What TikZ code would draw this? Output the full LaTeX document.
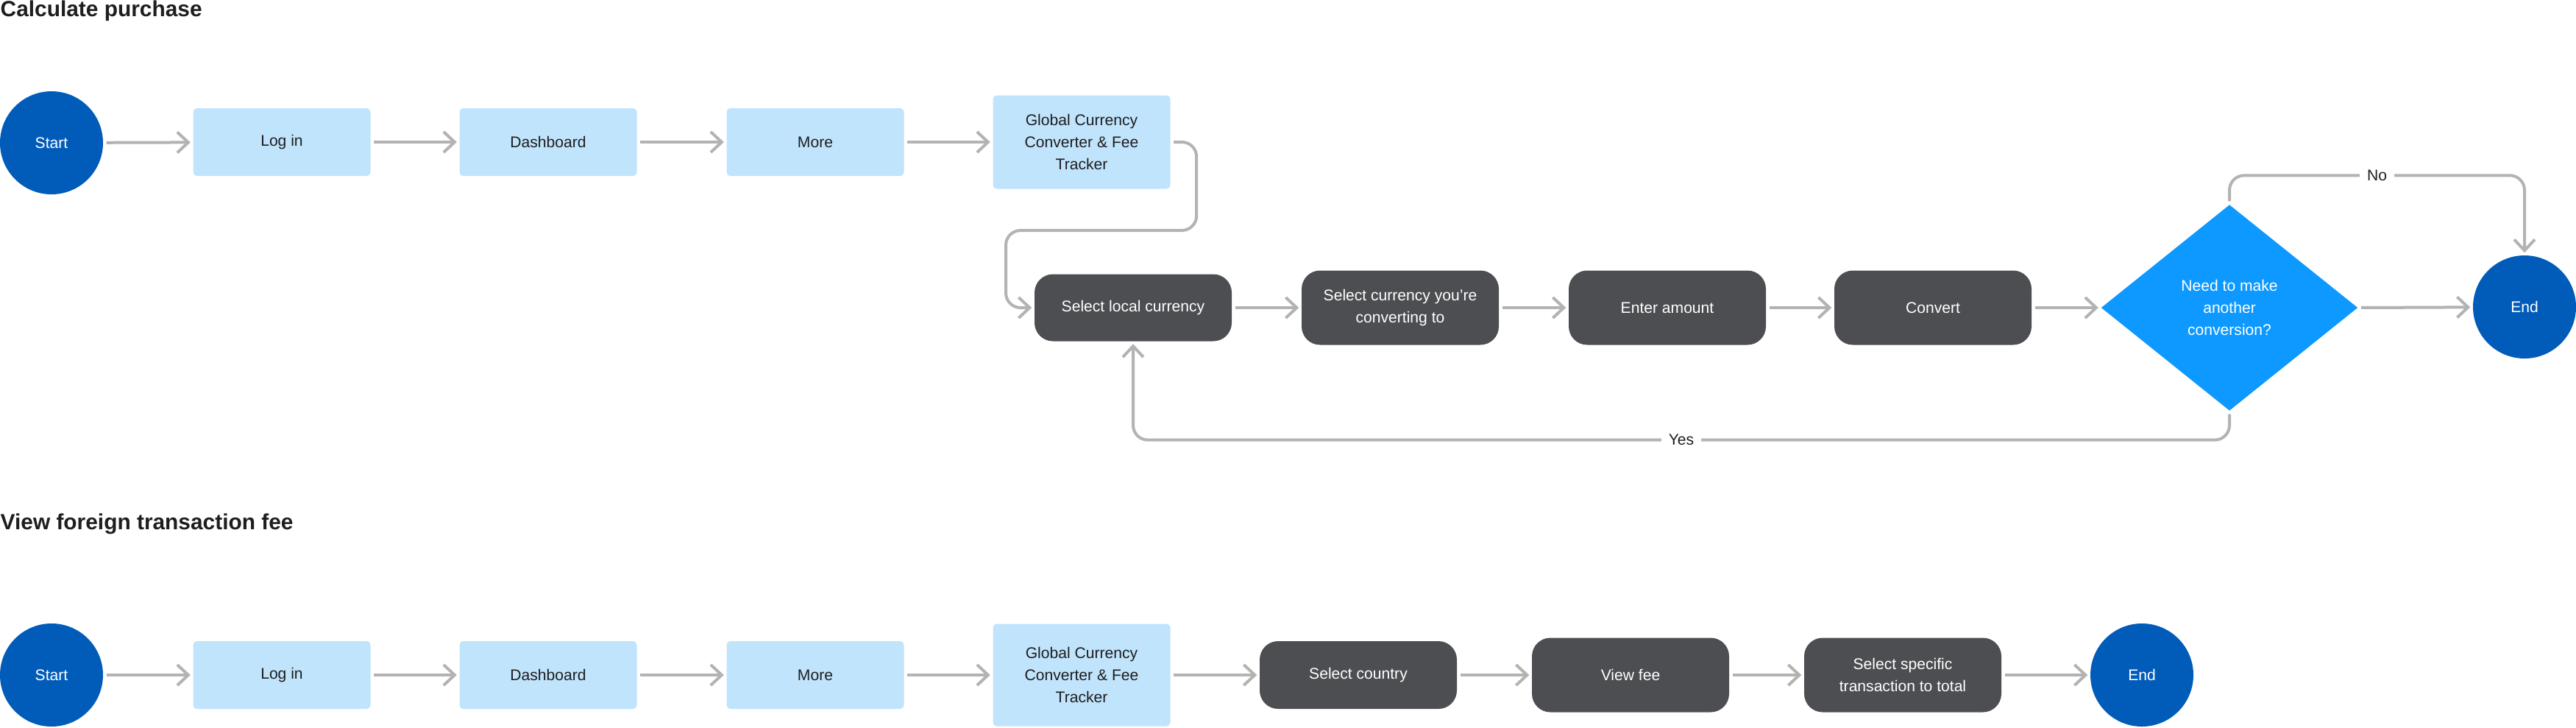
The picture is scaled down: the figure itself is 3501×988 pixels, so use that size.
\documentclass[tikz,border=0pt]{standalone}
\usepackage{fontspec}
\setmainfont{Liberation Sans}
\usetikzlibrary{arrows.meta,shapes.geometric}

\definecolor{termblue}{HTML}{015CB9}
\definecolor{screenblue}{HTML}{C0E4FC}
\definecolor{actiongray}{HTML}{4D4E52}
\definecolor{askblue}{HTML}{0D99FF}
\definecolor{linegray}{HTML}{B3B3B3}
\definecolor{inkblack}{HTML}{1E1E1E}

\begin{document}
\begin{tikzpicture}[x=0.1mm,y=-0.1mm,
  every node/.style={font=\fontsize{6}{8.5}\selectfont},
  terminal/.style={circle,fill=termblue,text=white,minimum size=14mm,inner sep=0},
  screen/.style={rectangle,rounded corners=0.5mm,fill=screenblue,text=inkblack,minimum width=24.1mm,minimum height=9.2mm,align=center},
  action/.style={rectangle,rounded corners=2.5mm,fill=actiongray,text=white,minimum width=26.8mm,minimum height=10.1mm,align=center},
  choice/.style={diamond,fill=askblue,text=white,minimum width=34.9mm,minimum height=28mm,inner sep=0,align=center},
  flow/.style={draw=linegray,line width=0.4mm,-{Straight Barb[length=1.5mm,width=2.8mm]},shorten <=0.4mm,shorten >=0.3mm},
  answer/.style={fill=white,text=inkblack,inner sep=1mm},
  heading/.style={anchor=north west,inner sep=0,text=inkblack,font=\fontsize{8.5}{10}\selectfont\bfseries}]

\useasboundingbox (0,0) rectangle (3501,988);

% calculate purchase
\node[heading] (calctitle) at (0,0) {Calculate purchase};

\node[terminal] (start1) at (70,194) {Start};
\node[screen] (login1) at (383,193) {Log in};
\node[screen] (dash1) at (745,193) {Dashboard};
\node[screen] (more1) at (1108,193) {More};
\node[screen,minimum height=12.7mm] (global1) at (1470,193) {Global Currency\\Converter \& Fee\\Tracker};

\node[action,minimum height=9.1mm] (local) at (1540,418) {Select local currency};
\node[action] (target) at (1903,418) {Select currency you’re\\converting to};
\node[action] (amount) at (2266,418) {Enter amount};
\node[action] (convert) at (2627,418) {Convert};
\node[choice] (again) at (3030,418) {Need to make\\another\\conversion?};
\node[terminal] (end1) at (3431,417) {End};

\coordinate (loopbend) at (1367,313);

\draw[flow] (start1) -- (login1);
\draw[flow] (login1) -- (dash1);
\draw[flow] (dash1) -- (more1);
\draw[flow] (more1) -- (global1);
\draw[flow,rounded corners=2mm] (global1.east) -- ++(35,0) |- (loopbend) |- (local.west);
\draw[flow] (local) -- (target);
\draw[flow] (target) -- (amount);
\draw[flow] (amount) -- (convert);
\draw[flow] (convert) -- (again.west);
\draw[flow] (again.east) -- (end1);
\draw[flow,rounded corners=2mm] (again.north) -- ++(0,-39) -| node[answer,pos=0.25] {No} (end1.north);
\draw[flow,rounded corners=2mm] (again.south) -- ++(0,39) -| node[answer,pos=0.25] {Yes} (local.south);

% view foreign transaction fee
\node[heading] (feetitle) at (0,697) {View foreign transaction fee};

\node[terminal] (start2) at (70,917) {Start};
\node[screen] (login2) at (383,917) {Log in};
\node[screen] (dash2) at (745,917) {Dashboard};
\node[screen] (more2) at (1108,917) {More};
\node[screen,minimum height=13.9mm] (global2) at (1470,917) {Global Currency\\Converter \& Fee\\Tracker};
\node[action,minimum height=9.2mm] (country) at (1846,917) {Select country};
\node[action] (fee) at (2216,917) {View fee};
\node[action] (specific) at (2586,917) {Select specific\\transaction to total};
\node[terminal] (end2) at (2911,917) {End};

\draw[flow] (start2) -- (login2);
\draw[flow] (login2) -- (dash2);
\draw[flow] (dash2) -- (more2);
\draw[flow] (more2) -- (global2);
\draw[flow] (global2) -- (country);
\draw[flow] (country) -- (fee);
\draw[flow] (fee) -- (specific);
\draw[flow] (specific) -- (end2);

\end{tikzpicture}
\end{document}
